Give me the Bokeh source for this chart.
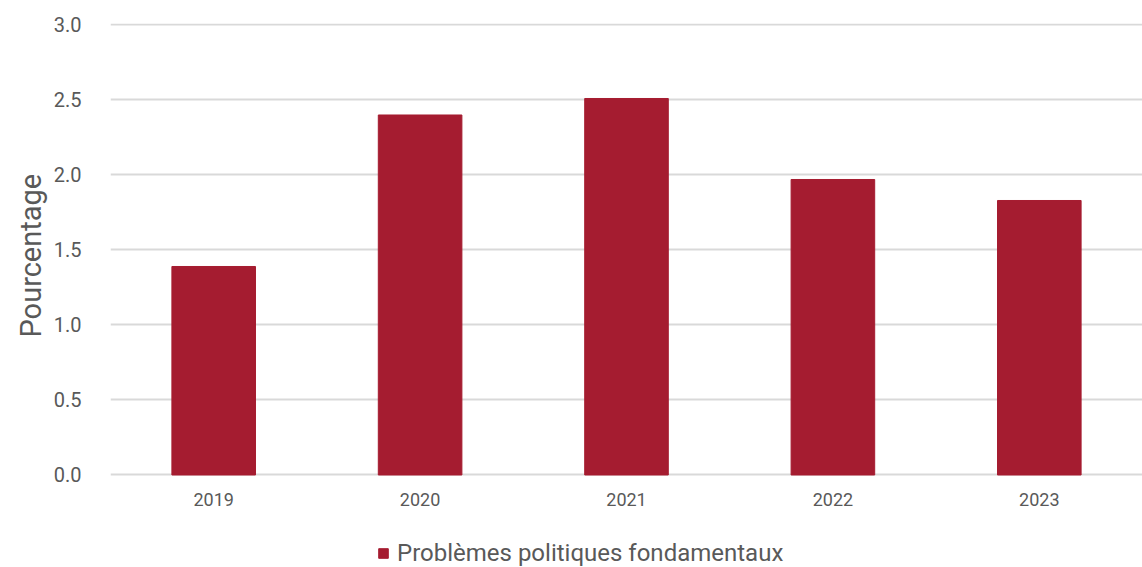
from bokeh.plotting import figure
from bokeh.models import ColumnDataSource, Legend, LegendItem, FixedTicker, CustomJSTickFormatter, Title
from bokeh.core.properties import value
from bokeh.embed import file_html
from bokeh.resources import INLINE

years = ["2019", "2020", "2021", "2022", "2023"]
values = [1.39, 2.40, 2.51, 1.97, 1.83]
series_name = "Problèmes politiques fondamentaux"
y_ticks = [0.0, 0.5, 1.0, 1.5, 2.0, 2.5, 3.0]
y_title = "Pourcentage"

FONT = "Roboto"
TXT = "#595959"
BAR = "#A51C30"

src = ColumnDataSource(dict(x=years, y=values))
lab = ColumnDataSource(dict(x=years, y=[0.0] * len(years), t=years))

p = figure(x_range=years, y_range=(-0.6167, 3.01), frame_width=1032, frame_height=544,
           output_backend="svg", toolbar_location=None, x_axis_location=None,
           min_border_left=110, min_border_right=0, min_border_top=23,
           min_border_bottom=0)
p.outline_line_color = None
p.background_fill_color = "white"

r = p.vbar(x="x", top="y", width=0.405, source=src, color=BAR)

p.text(x="x", y="y", text="t", source=lab, y_offset=25,
       text_align="center", text_baseline="middle",
       text_font=value(FONT), text_font_size="18px", text_color=TXT)

p.xgrid.grid_line_color = None
p.ygrid.grid_line_color = "#d9d9d9"
p.ygrid.grid_line_width = 2
p.yaxis.ticker = FixedTicker(ticks=y_ticks)
p.ygrid.ticker = FixedTicker(ticks=y_ticks)
p.yaxis.formatter = CustomJSTickFormatter(code="return tick.toFixed(1);")

p.yaxis.axis_line_color = None
p.yaxis.major_tick_line_color = None
p.yaxis.minor_tick_line_color = None
p.yaxis.major_label_text_font = FONT
p.yaxis.major_label_text_font_size = "20px"
p.yaxis.major_label_text_color = TXT
p.yaxis.major_label_standoff = 23

t = Title(text=y_title, align="left", offset=230, text_font=FONT,
          text_font_size="29px", text_font_style="normal", text_color=TXT,
          standoff=6)
p.add_layout(t, "left")

legend = Legend(items=[LegendItem(label=series_name, renderers=[r])],
                orientation="horizontal", location=(267, 0),
                label_text_font=FONT, label_text_font_size="24px",
                label_text_color=TXT, glyph_width=12, glyph_height=12,
                border_line_color=None, background_fill_alpha=0,
                label_standoff=8, margin=0, padding=0)
p.add_layout(legend, "center")

open("out.html", "w").write(file_html(p, INLINE))
